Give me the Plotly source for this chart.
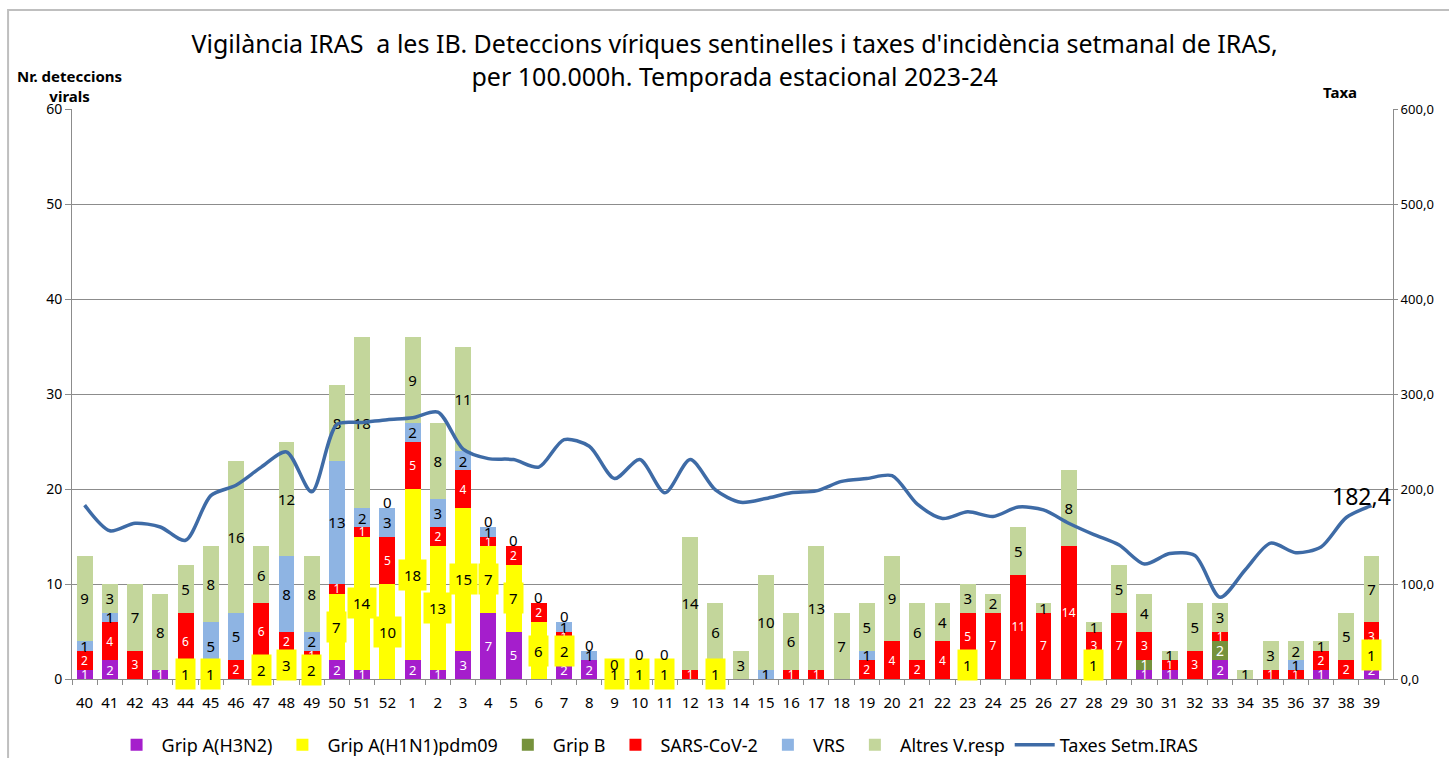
#! /usr/bin/env python3

import plotly.graph_objects as go

# setmanes epidemiologiques 40/2023 .. 39/2024
weeks = [str(w) for w in range(40, 53)] + [str(w) for w in range(1, 40)]

h3n2 = [1, 2, 0, 1, 0, 0, 0, 0, 0, 0, 2, 1, 0,
        2, 1, 3, 7, 5, 0, 2, 2, 0, 0, 0, 0, 0, 0, 0, 0, 0, 0, 0, 0, 0, 0,
        1, 0, 0, 0, 0, 1, 0, 1, 1, 0, 2, 0, 0, 0, 1, 0, 2]
h1n1 = [0, 0, 0, 0, 1, 1, 0, 2, 3, 2, 7, 14, 10,
        18, 13, 15, 7, 7, 6, 2, 0, 1, 1, 1, 0, 1, 0, 0, 0, 0, 0, 0, 0, 0, 0,
        1, 0, 0, 0, 0, 1, 0, 0, 0, 0, 0, 0, 0, 0, 0, 0, 1]
gripB = [0, 0, 0, 0, 0, 0, 0, 0, 0, 0, 0, 0, 0,
         0, 0, 0, 0, 0, 0, 0, 0, 0, 0, 0, 0, 0, 0, 0, 0, 0, 0, 0, 0, 0, 0,
         0, 0, 0, 0, 0, 0, 0, 1, 0, 0, 2, 0, 0, 0, 0, 0, 0]
sars = [2, 4, 3, 0, 6, 0, 2, 6, 2, 1, 1, 1, 5,
        5, 2, 4, 1, 2, 2, 1, 0, 0, 1, 1, 1, 1, 0, 0, 1, 1, 0, 2, 4, 2, 4,
        5, 7, 11, 7, 14, 3, 7, 3, 1, 3, 1, 0, 1, 1, 2, 2, 3]
vrs = [1, 1, 0, 0, 0, 5, 5, 0, 8, 2, 13, 2, 3,
       2, 3, 2, 1, 0, 0, 1, 1, 0, 0, 0, 0, 0, 0, 1, 0, 0, 0, 1, 0, 0, 0,
       0, 0, 0, 0, 0, 0, 0, 0, 0, 0, 0, 0, 0, 1, 0, 0, 0]
# 0 = zero explicit a la columna (surt l'etiqueta "0")
altres = [9, 3, 7, 8, 5, 8, 16, 6, 12, 8, 8, 18, 0,
          9, 8, 11, 0, 0, 0, 0, 0, 0, 0, 0, 14, 6, 3, 10, 6, 13, 7, 5, 9, 6, 4,
          3, 2, 5, 1, 8, 1, 5, 4, 1, 5, 3, 1, 3, 2, 1, 5, 7]

taxa = [183, 156, 164, 160, 146, 193, 204, 223, 239, 197, 268, 270, 273,
        275, 281, 242, 232, 231, 223, 252, 245, 211, 231, 196, 231, 199, 186,
        190, 196, 198, 208, 211, 214, 184, 169, 176, 171, 181, 178, 164, 152,
        141, 121, 132, 130, 86, 115, 143, 133, 139, 170, 182.4]

left_ticks = [0, 10, 20, 30, 40, 50, 60]
right_ticks = [0, 100, 200, 300, 400, 500, 600]
right_ticktext = ["0,0", "100,0", "200,0", "300,0", "400,0", "500,0", "600,0"]

FONT = "Noto Sans"

series = [
    ("Grip A(H3N2)", h3n2, "#A51ECC", "white", 13),
    ("Grip A(H1N1)pdm09", h1n1, "#FFFF00", "black", 15),
    ("Grip B", gripB, "#76923C", "white", 14),
    ("SARS-CoV-2", sars, "#FF0000", "white", 12),
    ("VRS", vrs, "#8EB4E3", "black", 15),
    ("Altres V.resp", altres, "#C3D69B", "black", 15),
]

fig = go.Figure()

for name, vals, col, tcol, tsize in series:
    txt = [str(v) if v else "" for v in vals]
    if name == "Grip A(H1N1)pdm09":
        txt = ["" for v in vals]  # etiquetes amb fons groc, com annotations
    fig.add_trace(go.Bar(
        x=weeks, y=vals, name=name,
        marker=dict(color=col, line=dict(width=0)),
        text=txt, textposition="inside", insidetextanchor="middle",
        constraintext="none", textangle=0,
        textfont=dict(color=tcol, size=tsize, family=FONT),
    ))

fig.add_trace(go.Scatter(
    x=weeks, y=taxa, name="Taxes Setm.IRAS", yaxis="y2",
    mode="lines", line=dict(color="#3E6BA6", width=3.5, shape="spline", smoothing=0.8),
))

# etiquetes de la grip A(H1N1) amb fons groc (x = index de categoria)
for i in range(len(weeks)):
    if h1n1[i]:
        fig.add_annotation(
            x=i, y=h3n2[i] + h1n1[i] / 2, xref="x", yref="y",
            text=str(h1n1[i]), showarrow=False, bgcolor="#FFFF00",
            borderpad=5, font=dict(size=15, color="black", family=FONT),
        )

# zeros explicits al capdamunt de la columna
for i in range(len(weeks)):
    if altres[i] == 0:
        tot = h3n2[i] + h1n1[i] + gripB[i] + sars[i] + vrs[i]
        fig.add_annotation(
            x=i, y=tot, xref="x", yref="y", text="0", showarrow=False,
            yshift=6, font=dict(size=15, color="black", family=FONT),
        )

fig.add_annotation(
    x=len(weeks) - 1, y=taxa[-1], xref="x", yref="y2", text="182,4",
    showarrow=False, xshift=-10, yshift=10,
    font=dict(size=23, color="black", family=FONT),
)

fig.add_annotation(
    x=-0.002, y=1.04, xref="paper", yref="paper", xanchor="center", yanchor="middle",
    text="<b>Nr. deteccions<br>virals</b>", showarrow=False,
    font=dict(size=15, color="black", family=FONT),
)
fig.add_annotation(
    x=0.96, y=1.03, xref="paper", yref="paper", xanchor="center", yanchor="middle",
    text="<b>Taxa</b>", showarrow=False,
    font=dict(size=15, color="black", family=FONT),
)

# marc del grafic
fig.add_shape(type="rect", xref="paper", yref="paper",
              x0=-0.0484, y0=-0.16, x1=1.1, y1=1.1737,
              line=dict(color="#BFBFBF", width=2), layer="below")

fig.update_layout(
    width=1449, height=758,
    margin=dict(l=72, r=56, t=109, b=79),
    paper_bgcolor="white", plot_bgcolor="white",
    barmode="stack", bargap=0.37,
    font=dict(family=FONT, color="black"),
    title=dict(
        text="Vigilància IRAS  a les IB. Deteccions víriques sentinelles i taxes d'incidència setmanal de IRAS,<br>per 100.000h. Temporada estacional 2023-24",
        x=0.507, xanchor="center", y=0.93, yanchor="middle",
        font=dict(size=25, color="black", family=FONT),
    ),
    xaxis=dict(
        type="category", showline=True, linecolor="#8C8C8C",
        ticks="outside", tickson="boundaries", ticklen=5, tickcolor="#8C8C8C",
        tickfont=dict(size=15), tickangle=0, ticklabelstandoff=10,
        showgrid=False, automargin=False,
    ),
    yaxis=dict(
        range=[0, 60], tickvals=left_ticks, showline=True, linecolor="#8C8C8C",
        ticks="outside", ticklen=6, tickcolor="#8C8C8C",
        gridcolor="#8C8C8C", gridwidth=1, zeroline=False,
        tickfont=dict(size=14), automargin=False,
    ),
    yaxis2=dict(
        range=[0, 600], tickvals=right_ticks, ticktext=right_ticktext,
        overlaying="y", side="right", showline=True, linecolor="#8C8C8C",
        ticks="outside", ticklen=4, tickcolor="#8C8C8C", showgrid=False,
        zeroline=False, tickfont=dict(size=13), automargin=False,
    ),
    legend=dict(
        orientation="h", xref="container", yref="container",
        x=0.077, xanchor="left", y=0.017, yanchor="middle",
        font=dict(size=18), traceorder="normal", itemwidth=40,
    ),
    showlegend=True,
)

fig.write_html("out.html", config={"displayModeBar": False},
               post_script="document.body.style.margin='0';")
